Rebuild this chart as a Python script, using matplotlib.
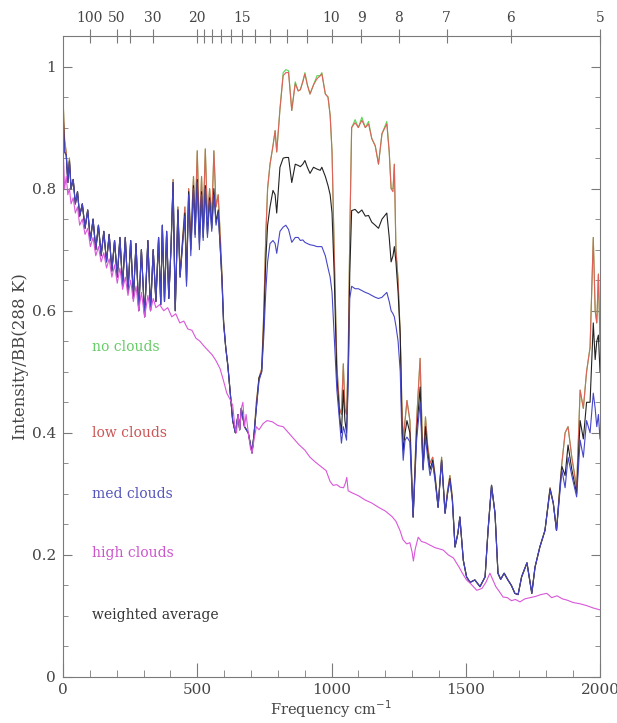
import matplotlib
matplotlib.use('Agg')
from matplotlib import pyplot as plt
from matplotlib.ticker import MultipleLocator, FuncFormatter

# wavenumber grids (cm^-1), split into spectral segments
freq_a = [0, 6, 12, 18, 24, 30, 38, 46, 54, 62,
          72, 82, 92, 102, 112, 122, 132, 142, 152, 162,
          172, 182, 192, 202, 212, 222, 232, 242, 252, 262,
          272, 282, 292, 304, 316, 326, 336, 346, 356, 364,
          370, 378, 386, 394, 402, 410, 418, 428, 436, 446,
          454, 460, 468, 476, 486, 492, 500, 508, 516, 522,
          530, 538, 546, 554, 562, 570, 578, 586, 592, 598,
          606, 614, 622]
freq_b = [632, 642, 652, 658, 664, 676, 690, 704, 712, 720,
          730, 740, 748, 755, 762, 771, 782, 790, 796, 808,
          820, 830, 840, 852, 865, 876, 884, 893, 901, 910,
          920, 933, 946, 958, 964, 977, 987, 995, 1002, 1010,
          1020, 1030, 1037, 1044, 1050, 1056, 1062, 1068, 1075, 1088,
          1100, 1113, 1126, 1138, 1150, 1163, 1175, 1188, 1206, 1215,
          1222, 1229, 1234, 1240, 1248, 1256]
freq_c = [1262, 1267, 1274, 1281, 1292, 1304, 1317, 1330, 1341, 1350,
          1358, 1367, 1377, 1386, 1397, 1410, 1423, 1432, 1441, 1450,
          1460, 1471, 1478, 1491, 1503, 1516, 1534, 1553, 1572, 1583,
          1596, 1609, 1620, 1630, 1643, 1657, 1670, 1683, 1695, 1708,
          1728, 1746, 1758, 1776, 1795, 1814, 1826, 1838, 1850]
freq_d = [1858, 1870, 1881, 1895, 1913, 1926, 1938, 1950, 1963, 1975,
          1982, 1988, 1994, 2000]

# med clouds
med_a = [0.91, 0.86, 0.855, 0.81, 0.845, 0.80, 0.815, 0.775, 0.795, 0.755,
         0.775, 0.735, 0.765, 0.715, 0.75, 0.70, 0.74, 0.69, 0.73, 0.68,
         0.725, 0.665, 0.715, 0.655, 0.72, 0.64, 0.72, 0.63, 0.715, 0.62,
         0.71, 0.60, 0.70, 0.59, 0.715, 0.60, 0.70, 0.615, 0.72, 0.61,
         0.74, 0.615, 0.73, 0.62, 0.70, 0.81, 0.60, 0.765, 0.655, 0.71,
         0.755, 0.64, 0.79, 0.69, 0.80, 0.72, 0.81, 0.70, 0.79, 0.715,
         0.80, 0.72, 0.78, 0.73, 0.79, 0.74, 0.76, 0.70, 0.65, 0.58,
         0.54, 0.51, 0.47]
med_b = [0.42, 0.40, 0.43, 0.405, 0.44, 0.41, 0.40, 0.367, 0.40, 0.44,
         0.485, 0.50, 0.56, 0.63, 0.68, 0.71, 0.715, 0.71, 0.694, 0.73,
         0.737, 0.74, 0.733, 0.712, 0.72, 0.72, 0.715, 0.716, 0.712, 0.71,
         0.708, 0.707, 0.705, 0.705, 0.705, 0.69, 0.67, 0.655, 0.63, 0.56,
         0.47, 0.42, 0.383, 0.41, 0.40, 0.388, 0.48, 0.62, 0.64, 0.636,
         0.636, 0.633, 0.63, 0.628, 0.625, 0.622, 0.62, 0.622, 0.63, 0.615,
         0.60, 0.595, 0.59, 0.575, 0.55, 0.50]
med_c = [0.40, 0.355, 0.388, 0.393, 0.385, 0.262, 0.388, 0.45, 0.339, 0.393,
         0.36, 0.33, 0.35, 0.32, 0.278, 0.355, 0.268, 0.30, 0.322, 0.29,
         0.213, 0.236, 0.262, 0.191, 0.164, 0.155, 0.159, 0.148, 0.164, 0.24,
         0.314, 0.268, 0.17, 0.16, 0.17, 0.159, 0.15, 0.137, 0.135, 0.164,
         0.187, 0.137, 0.18, 0.213, 0.24, 0.306, 0.285, 0.24, 0.30]
med_d = [0.339, 0.31, 0.36, 0.33, 0.295, 0.388, 0.36, 0.42, 0.40, 0.465,
         0.44, 0.41, 0.43, 0.39]

# weighted average
avg_a = [0.93, 0.86, 0.855, 0.81, 0.845, 0.80, 0.815, 0.775, 0.795, 0.755,
         0.775, 0.735, 0.765, 0.715, 0.75, 0.70, 0.74, 0.69, 0.73, 0.68,
         0.725, 0.665, 0.715, 0.655, 0.72, 0.64, 0.72, 0.63, 0.715, 0.62,
         0.71, 0.60, 0.70, 0.59, 0.715, 0.60, 0.70, 0.615, 0.72, 0.61,
         0.74, 0.615, 0.73, 0.62, 0.70, 0.81, 0.60, 0.765, 0.655, 0.715,
         0.76, 0.645, 0.795, 0.70, 0.805, 0.725, 0.815, 0.71, 0.795, 0.72,
         0.805, 0.725, 0.785, 0.735, 0.80, 0.745, 0.765, 0.70, 0.65, 0.58,
         0.54, 0.51, 0.47]
avg_b = [0.42, 0.40, 0.43, 0.405, 0.44, 0.41, 0.40, 0.367, 0.40, 0.44,
         0.49, 0.50, 0.58, 0.68, 0.74, 0.77, 0.797, 0.79, 0.76, 0.835,
         0.85, 0.851, 0.851, 0.81, 0.84, 0.838, 0.836, 0.84, 0.846, 0.835,
         0.825, 0.835, 0.832, 0.83, 0.835, 0.82, 0.805, 0.79, 0.76, 0.66,
         0.49, 0.43, 0.40, 0.47, 0.42, 0.40, 0.49, 0.66, 0.764, 0.766,
         0.76, 0.765, 0.755, 0.756, 0.745, 0.74, 0.735, 0.75, 0.76, 0.72,
         0.68, 0.69, 0.705, 0.68, 0.63, 0.56]
avg_c = [0.42, 0.37, 0.40, 0.42, 0.40, 0.262, 0.40, 0.475, 0.34, 0.41,
         0.37, 0.34, 0.355, 0.325, 0.278, 0.355, 0.268, 0.30, 0.325, 0.29,
         0.213, 0.236, 0.262, 0.191, 0.164, 0.155, 0.159, 0.148, 0.164, 0.24,
         0.314, 0.268, 0.17, 0.16, 0.17, 0.159, 0.15, 0.137, 0.135, 0.164,
         0.187, 0.137, 0.18, 0.213, 0.24, 0.308, 0.285, 0.24, 0.305]
avg_d = [0.345, 0.33, 0.38, 0.34, 0.30, 0.42, 0.39, 0.45, 0.45, 0.58,
         0.52, 0.55, 0.56, 0.50]

# low clouds
low_a = [0.95, 0.88, 0.86, 0.81, 0.85, 0.80, 0.815, 0.775, 0.795, 0.755,
         0.775, 0.735, 0.765, 0.715, 0.75, 0.70, 0.74, 0.69, 0.73, 0.68,
         0.725, 0.665, 0.715, 0.655, 0.72, 0.64, 0.72, 0.63, 0.715, 0.62,
         0.71, 0.60, 0.70, 0.59, 0.715, 0.60, 0.70, 0.615, 0.72, 0.61,
         0.74, 0.615, 0.73, 0.62, 0.70, 0.815, 0.60, 0.77, 0.66, 0.72,
         0.77, 0.65, 0.80, 0.72, 0.82, 0.74, 0.862, 0.73, 0.82, 0.74,
         0.865, 0.75, 0.80, 0.75, 0.862, 0.77, 0.79, 0.72, 0.66, 0.585,
         0.54, 0.51, 0.47]
low_b = [0.42, 0.40, 0.43, 0.405, 0.44, 0.41, 0.40, 0.367, 0.40, 0.45,
         0.49, 0.505, 0.60, 0.72, 0.80, 0.84, 0.87, 0.895, 0.86, 0.93,
         0.985, 0.99, 0.99, 0.928, 0.972, 0.96, 0.962, 0.975, 0.988, 0.97,
         0.955, 0.97, 0.98, 0.985, 0.988, 0.955, 0.95, 0.92, 0.86, 0.70,
         0.51, 0.44, 0.43, 0.513, 0.44, 0.43, 0.52, 0.72, 0.90, 0.908,
         0.90, 0.912, 0.90, 0.906, 0.882, 0.87, 0.84, 0.89, 0.906, 0.86,
         0.80, 0.795, 0.84, 0.70, 0.65, 0.56]
low_c = [0.45, 0.388, 0.42, 0.453, 0.42, 0.262, 0.42, 0.522, 0.344, 0.426,
         0.38, 0.35, 0.36, 0.33, 0.278, 0.36, 0.27, 0.305, 0.33, 0.295,
         0.213, 0.236, 0.262, 0.191, 0.164, 0.155, 0.159, 0.148, 0.164, 0.24,
         0.314, 0.268, 0.17, 0.16, 0.17, 0.159, 0.15, 0.137, 0.135, 0.164,
         0.187, 0.137, 0.18, 0.213, 0.24, 0.31, 0.285, 0.24, 0.31]
low_d = [0.35, 0.40, 0.41, 0.36, 0.31, 0.47, 0.44, 0.50, 0.54, 0.72,
         0.60, 0.58, 0.66, 0.55]

# no clouds: only peeks out above low clouds in the window bands
none_b = [0.42, 0.40, 0.43, 0.405, 0.44, 0.41, 0.40, 0.367, 0.40, 0.45,
          0.49, 0.505, 0.60, 0.72, 0.80, 0.84, 0.87, 0.895, 0.86, 0.93,
          0.99, 0.995, 0.993, 0.928, 0.975, 0.96, 0.962, 0.975, 0.99, 0.97,
          0.955, 0.97, 0.985, 0.985, 0.99, 0.955, 0.95, 0.92, 0.86, 0.70,
          0.51, 0.44, 0.43, 0.513, 0.44, 0.43, 0.52, 0.72, 0.90, 0.913,
          0.90, 0.917, 0.90, 0.91, 0.882, 0.87, 0.84, 0.89, 0.91, 0.86,
          0.80, 0.80, 0.84, 0.70, 0.65, 0.56]

# high clouds
freq_high = [0, 6, 12, 18, 24, 30, 38, 46, 54, 62,
             72, 82, 92, 102, 112, 122, 132, 142, 152, 162,
             172, 182, 192, 202, 212, 222, 232, 242, 252, 262,
             272, 282, 292, 304, 316, 326, 336, 346, 360, 375,
             390, 405, 420, 435, 450, 465, 480, 495, 510, 525,
             540, 555, 570, 585, 598, 610, 622, 632, 640, 646,
             652, 658, 664, 670, 676, 682, 690, 698, 704, 712,
             720, 730, 745, 760, 780, 800, 820, 840, 860, 880,
             900, 920, 940, 960, 980, 995, 1006, 1020, 1032, 1045,
             1052, 1057, 1062, 1075, 1100, 1125, 1150, 1175, 1200, 1225,
             1240, 1255, 1266, 1280, 1292, 1300, 1305, 1312, 1323, 1335,
             1350, 1367, 1385, 1400, 1416, 1435, 1454, 1465, 1475, 1490,
             1503, 1520, 1541, 1560, 1575, 1590, 1600, 1612, 1625, 1639,
             1655, 1670, 1685, 1702, 1720, 1740, 1760, 1780, 1802, 1820,
             1840, 1860, 1877, 1900, 1925, 1950, 1975, 2000]
high_vals = [0.87, 0.80, 0.82, 0.79, 0.80, 0.775, 0.785, 0.76, 0.77, 0.74,
             0.75, 0.725, 0.735, 0.705, 0.72, 0.69, 0.705, 0.68, 0.695, 0.67,
             0.685, 0.655, 0.675, 0.645, 0.67, 0.635, 0.655, 0.625, 0.65, 0.615,
             0.64, 0.60, 0.63, 0.59, 0.625, 0.60, 0.62, 0.605, 0.61, 0.60,
             0.605, 0.59, 0.595, 0.58, 0.583, 0.57, 0.568, 0.555, 0.55, 0.542,
             0.535, 0.528, 0.518, 0.505, 0.485, 0.465, 0.455, 0.445, 0.41, 0.40,
             0.43, 0.405, 0.44, 0.45, 0.41, 0.43, 0.40, 0.375, 0.367, 0.39,
             0.41, 0.405, 0.415, 0.42, 0.418, 0.412, 0.41, 0.40, 0.39, 0.38,
             0.372, 0.36, 0.352, 0.345, 0.338, 0.32, 0.314, 0.315, 0.311, 0.31,
             0.318, 0.327, 0.305, 0.302, 0.297, 0.29, 0.285, 0.278, 0.272, 0.263,
             0.255, 0.24, 0.225, 0.218, 0.22, 0.205, 0.19, 0.21, 0.229, 0.222,
             0.22, 0.216, 0.212, 0.21, 0.208, 0.20, 0.195, 0.187, 0.18, 0.168,
             0.159, 0.152, 0.142, 0.145, 0.155, 0.17, 0.16, 0.148, 0.14, 0.131,
             0.13, 0.125, 0.127, 0.123, 0.128, 0.13, 0.132, 0.135, 0.137, 0.13,
             0.133, 0.128, 0.126, 0.122, 0.12, 0.117, 0.113, 0.11]

# top axis: wavelength in microns
wavelengths = [100, 50, 40, 30, 20, 19, 18, 17, 16, 15, 14, 13, 12, 11, 10, 9, 8, 7, 6, 5]
wl_labelled = [100, 50, 30, 20, 15, 10, 9, 8, 7, 6, 5]

freq = freq_a + freq_b + freq_c + freq_d
TEXT = '#454545'
AXIS = '#7a7a7a'

plt.rcParams['font.family'] = 'DejaVu Serif'

fig = plt.figure(figsize=(6.17, 7.23), dpi=100)
ax = fig.add_axes([63 / 617, 1 - 677 / 723, 537 / 617, 641 / 723])

series = [
    ('no clouds', freq, low_a + none_b + low_c + low_d, '#55d855'),
    ('low clouds', freq, low_a + low_b + low_c + low_d, '#e0605a'),
    ('weighted average', freq, avg_a + avg_b + avg_c + avg_d, '#222222'),
    ('med clouds', freq, med_a + med_b + med_c + med_d, '#4646c8'),
    ('high clouds', freq_high, high_vals, '#d957d9'),
]
for name, f, v, c in series:
    ax.plot(f, v, color=c, lw=0.8)

# inline labels
label_pos = {'no clouds': 0.54, 'low clouds': 0.40, 'med clouds': 0.30,
             'high clouds': 0.203, 'weighted average': 0.102}
label_col = {'no clouds': '#66cc66', 'low clouds': '#cc5555', 'med clouds': '#5555bb',
             'high clouds': '#cc55cc', 'weighted average': '#333333'}
for name, y in label_pos.items():
    ax.text(108, y, name, color=label_col[name], fontsize=10, va='center', ha='left')

ax.set_xlim(0, 2000)
ax.set_ylim(0, 1.05)
ax.xaxis.set_major_locator(MultipleLocator(500))
ax.xaxis.set_minor_locator(MultipleLocator(100))
ax.yaxis.set_major_locator(MultipleLocator(0.2))
ax.yaxis.set_minor_locator(MultipleLocator(0.05))
ax.yaxis.set_major_formatter(FuncFormatter(lambda v, p: '%g' % round(v, 2)))
ax.tick_params(which='both', direction='in', top=False, right=True,
               color=AXIS, labelcolor=TEXT, labelsize=11)
ax.tick_params(axis='x', which='major', length=10, pad=4)
ax.tick_params(axis='x', which='minor', length=5)
ax.tick_params(axis='y', which='major', length=6.5, pad=5)
ax.tick_params(axis='y', which='minor', length=3.5)
for s in ax.spines.values():
    s.set_color(AXIS)

ax.set_xlabel('Frequency cm$^{-1}$', fontsize=10.5, color=TEXT, labelpad=1)
ax.set_ylabel('Intensity/BB(288 K)', fontsize=12, color=TEXT, labelpad=2)

ax2 = ax.twiny()
ax2.set_xlim(0, 2000)
ax2.set_xticks([1e4 / w for w in wavelengths])
ax2.set_xticklabels([str(w) if w in wl_labelled else '' for w in wavelengths])
ax2.tick_params(direction='inout', length=10, color=AXIS, labelcolor=TEXT,
                labelsize=10, pad=3)
for s in ax2.spines.values():
    s.set_visible(False)

fig.savefig('out.png', dpi=100)
